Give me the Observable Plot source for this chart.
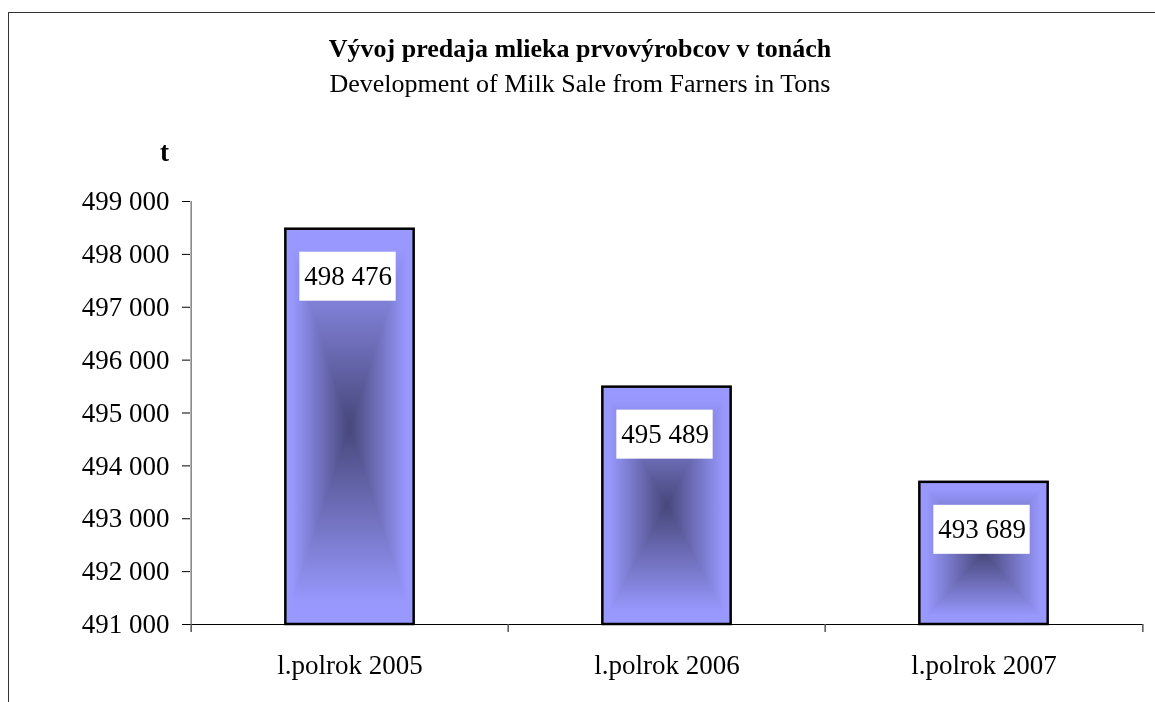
<!DOCTYPE html>
<html>
<head>
<meta charset="utf-8">
<script src="https://cdn.jsdelivr.net/npm/d3@7"></script>
<script src="https://cdn.jsdelivr.net/npm/@observablehq/plot@0.6"></script>
<style>
  html, body { margin: 0; padding: 0; background: #fff; width: 1155px; height: 702px; overflow: hidden; position: relative; }
  #frame { position: absolute; left: 8px; top: 12px; width: 1200px; height: 800px; border: 1.5px solid #333; box-sizing: border-box; }
  .txt { position: absolute; font-family: "Liberation Serif", "Times New Roman", serif; color: #000; white-space: nowrap; }
  #title { left: 0; width: 1160px; top: 34px; text-align: center; font-size: 26px; font-weight: bold; line-height: 30px; }
  #subtitle { left: 0; width: 1160px; top: 69px; text-align: center; font-size: 26px; line-height: 30px; }
  #unit { left: 160px; top: 137px; font-size: 27px; font-weight: bold; line-height: 30px; }
  #chart { position: absolute; left: 0; top: 120px; }
</style>
</head>
<body>
<div id="frame"></div>
<div id="title" class="txt">Vývoj predaja mlieka prvovýrobcov v tonách</div>
<div id="subtitle" class="txt">Development of Milk Sale from Farners in Tons</div>
<div id="unit" class="txt">t</div>
<div id="chart"></div>
<script>
const categories = ["l.polrok 2005", "l.polrok 2006", "l.polrok 2007"];
const values = [498476, 495489, 493689];
const yTicks = [491000, 492000, 493000, 494000, 495000, 496000, 497000, 498000, 499000];

const data = categories.map((c, i) => ({cat: c, value: values[i]}));
const yMin = yTicks[0];
const yMax = yTicks[yTicks.length - 1];

const fmt = d3.formatLocale({decimal: ",", thousands: " ", grouping: [3], currency: ["", ""]}).format(",d");

const W = 1155, H = 582, mL = 190, mR = 12, mT = 81, mB = 78;
const step = (W - mL - mR) / categories.length;
const barW = 129, boxW = 97;

const plot = Plot.plot({
  width: W,
  height: H,
  marginLeft: mL,
  marginRight: mR,
  marginTop: mT,
  marginBottom: mB,
  style: {fontFamily: "'Liberation Serif', 'Times New Roman', serif", fontSize: "27px", color: "#000", background: "transparent"},
  x: {type: "band", domain: categories, padding: 0, label: null},
  y: {domain: [yMin, yMax], label: null},
  marks: [
    Plot.barY(data, {x: "cat", y1: () => yMin, y2: "value", fill: "url(#gx)", insetLeft: (step - barW) / 2, insetRight: (step - barW) / 2}),
    Plot.barY(data, {x: "cat", y1: () => yMin, y2: "value", fill: "url(#gy)", mixBlendMode: "lighten", insetLeft: (step - barW) / 2, insetRight: (step - barW) / 2}),
    Plot.barY(data, {x: "cat", y1: () => yMin, y2: "value", fill: "none", stroke: "#000", strokeWidth: 2.5, insetLeft: (step - barW) / 2, insetRight: (step - barW) / 2}),
    Plot.barY(data, {x: "cat", y1: "value", y2: "value", fill: "#fff", insetLeft: (step - boxW) / 2 - 2, insetRight: (step - boxW) / 2 + 2, insetTop: 23, insetBottom: -72}),
    Plot.text(data, {x: "cat", y: "value", text: d => fmt(d.value), dy: 47, dx: -2, fontSize: 27, fill: "#000"}),
    Plot.ruleY([yMin], {stroke: "#000", strokeWidth: 1}),
    Plot.ruleX([categories[0]], {y1: () => yMin, y2: () => yMax, dx: -step / 2, stroke: "#808080", strokeWidth: 1.5}),
    Plot.ruleX(categories, {y1: () => yMin, y2: () => yMin, insetBottom: -8, dx: -step / 2, stroke: "#555", strokeWidth: 1.5}),
    Plot.ruleX([categories[categories.length - 1]], {y1: () => yMin, y2: () => yMin, insetBottom: -8, dx: step / 2, stroke: "#555", strokeWidth: 1.5}),
    Plot.axisY({ticks: yTicks, tickFormat: fmt, tickSize: 8, tickPadding: 13, fontSize: 27, stroke: "#000"}),
    Plot.axisX({tickSize: 0, tickPadding: 30, fontSize: 27})
  ]
});

const ns = "http://www.w3.org/2000/svg";
const defs = document.createElementNS(ns, "defs");
function grad(id, horizontal) {
  const g = document.createElementNS(ns, "linearGradient");
  g.setAttribute("id", id);
  g.setAttribute("x1", "0"); g.setAttribute("y1", "0");
  g.setAttribute("x2", horizontal ? "1" : "0"); g.setAttribute("y2", horizontal ? "0" : "1");
  const stops = [[0, "#9999ff"], [0.06, "#9797fc"], [0.5, "#47477b"], [0.94, "#9797fc"], [1, "#9999ff"]];
  for (const [o, c] of stops) {
    const s = document.createElementNS(ns, "stop");
    s.setAttribute("offset", o);
    s.setAttribute("stop-color", c);
    g.appendChild(s);
  }
  defs.appendChild(g);
}
grad("gx", true);
grad("gy", false);
plot.insertBefore(defs, plot.firstChild);

document.getElementById("chart").appendChild(plot);
</script>
</body>
</html>
